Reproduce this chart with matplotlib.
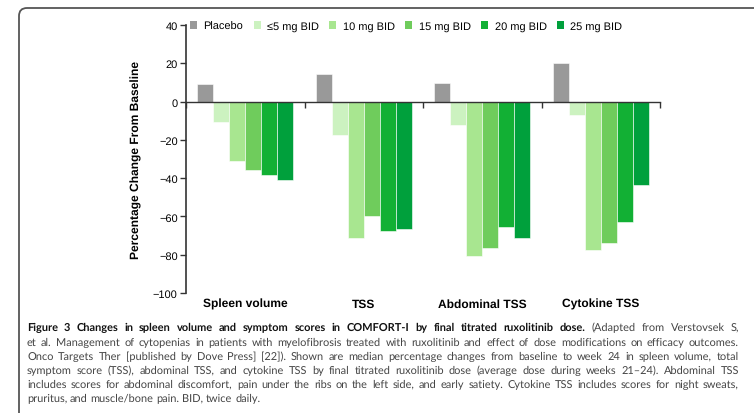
import math
import matplotlib
matplotlib.use('Agg')
import matplotlib.pyplot as plt
from matplotlib.patches import Patch, FancyBboxPatch
from matplotlib.font_manager import FontProperties

# Datos (mediana del cambio porcentual vs. basal)
categorias = ['Spleen volume', 'TSS', 'Abdominal TSS', 'Cytokine TSS']
dosis = ['Placebo', '≤5 mg BID', '10 mg BID', '15 mg BID', '20 mg BID', '25 mg BID']
placebo = [9.0, 14.4, 9.9, 20.2]
mg5 = [-10.6, -17.7, -12.0, -7.1]
mg10 = [-31.0, -71.3, -80.9, -77.6]
mg15 = [-36.0, -60.0, -76.7, -73.9]
mg20 = [-38.6, -67.8, -65.4, -63.0]
mg25 = [-41.0, -66.4, -71.3, -43.8]
colores = ['#999999', '#ccf2c0', '#a8e690', '#6fcc5c', '#12b034', '#00a03c']

titulo = 'Figure 3 Changes in spleen volume and symptom scores in COMFORT-I by final titrated ruxolitinib dose.'
lineas = [
    '(Adapted from Verstovsek S,',
    'et al. Management of cytopenias in patients with myelofibrosis treated with ruxolitinib and effect of dose modifications on efficacy outcomes.',
    'Onco Targets Ther [published by Dove Press] [22]). Shown are median percentage changes from baseline to week 24 in spleen volume, total',
    'symptom score (TSS), abdominal TSS, and cytokine TSS by final titrated ruxolitinib dose (average dose during weeks 21\u201324). Abdominal TSS',
    'includes scores for abdominal discomfort, pain under the ribs on the left side, and early satiety. Cytokine TSS includes scores for night sweats,',
    'pruritus, and muscle/bone pain. BID, twice daily.',
]

W, H = 754, 414
plt.rcParams['font.family'] = ['Liberation Sans', 'DejaVu Sans']
plt.rcParams['text.hinting'] = 'no_hinting'
plt.rcParams['text.hinting_factor'] = 1
fig = plt.figure(figsize=(W / 100, H / 100), dpi=100)
ax = fig.add_axes([186 / W, 1 - 294 / H, 474 / W, 268 / H])

# marco redondeado de la página
marco = FancyBboxPatch((0.19, -0.5), 9.0, 4.14 - 0.09 + 0.5,
                       boxstyle='round,pad=0,rounding_size=0.08',
                       transform=fig.dpi_scale_trans, facecolor='none',
                       edgecolor='#555555', linewidth=1.3)
fig.add_artist(marco)

series = [placebo, mg5, mg10, mg15, mg20, mg25]
ancho = 16 / 118
for j, (serie, color) in enumerate(zip(series, colores)):
    xs = [i + 0.5 + (j - 2.5) * ancho for i in range(len(categorias))]
    ax.bar(xs, serie, ancho, color=color, edgecolor='white', linewidth=0.4, zorder=2)

ax.set_xlim(0, 4)
ax.set_ylim(-100, 40)
ax.set_yticks(range(-100, 41, 20))
ax.set_xticks(range(0, 5))
ax.set_xticklabels([])
ax.spines['top'].set_visible(False)
ax.spines['right'].set_visible(False)
ax.spines['bottom'].set_position(('data', 0))
for s in ['left', 'bottom']:
    ax.spines[s].set_color('#333333')
ax.spines['left'].set_linewidth(1.2)
ax.spines['bottom'].set_linewidth(1.0)
ax.spines['bottom'].set_zorder(3)
ax.tick_params(axis='y', length=4, width=1, color='#333333', labelsize=8, pad=2)
ax.tick_params(axis='x', length=4, width=1, color='#333333')
ax.set_ylabel('Percentage Change From Baseline', fontsize=8.9, fontweight='bold', labelpad=8)
for i, cat in enumerate(categorias):
    ax.text(i + 0.5, -105.4, cat, ha='center', va='center', fontsize=8.8, fontweight='bold')

manejadores = [Patch(facecolor=c, edgecolor='none') for c in colores]
fig.legend(manejadores, dosis, loc='center left', bbox_to_anchor=(190 / W, 1 - 27 / H),
           ncol=6, frameon=False, fontsize=7.8, handlelength=0.65, handleheight=0.65,
           handletextpad=0.6, columnspacing=0.95, borderpad=0, borderaxespad=0)

# pie de figura, justificado palabra por palabra
renderer = fig.canvas.get_renderer()
x0, x1 = 27, 739
bases = [331, 346, 360, 374, 388, 402]
fam = ['Lato', 'DejaVu Sans']


def medir(texto, size, weight):
    t = fig.text(0, 0, texto, fontsize=size, fontweight=weight, family=fam)
    w = t.get_window_extent(renderer).width
    t.remove()
    return w


def ajuste(texto, size, weight):
    # corrige el redondeo del mapa de bits para que todas las palabras
    # queden sobre la misma línea base
    prop = FontProperties(family=fam, size=size, weight=weight)
    _, h, d = renderer.get_text_width_height_descent(texto, prop, False)
    return round(d) + math.floor(h - d) - math.floor(h)


def piezas_linea(k):
    if k == 0:
        return [(p, 'bold', '#111111') for p in titulo.split()] + \
               [(p, 'normal', '#444444') for p in lineas[0].split()]
    return [(p, 'normal', '#444444') for p in lineas[k].split()]


base = 10
size = base * (x1 - x0) / medir(lineas[1], base, 'normal') * 0.985
esp = medir('a a', size, 'normal') - medir('aa', size, 'normal')

for k, y in enumerate(bases):
    pz = piezas_linea(k)
    anchos = [medir(p, size, w) for p, w, c in pz]
    hueco = (x1 - x0 - sum(anchos)) / (len(pz) - 1) if k < 5 else esp
    x = x0
    for (p, w, c), a in zip(pz, anchos):
        yb = y - ajuste(p, size, w)
        fig.text(x / W, 1 - yb / H, p, fontsize=size, fontweight=w, color=c,
                 family=fam, ha='left', va='baseline')
        x += a + hueco

fig.savefig('out.png', dpi=100)
